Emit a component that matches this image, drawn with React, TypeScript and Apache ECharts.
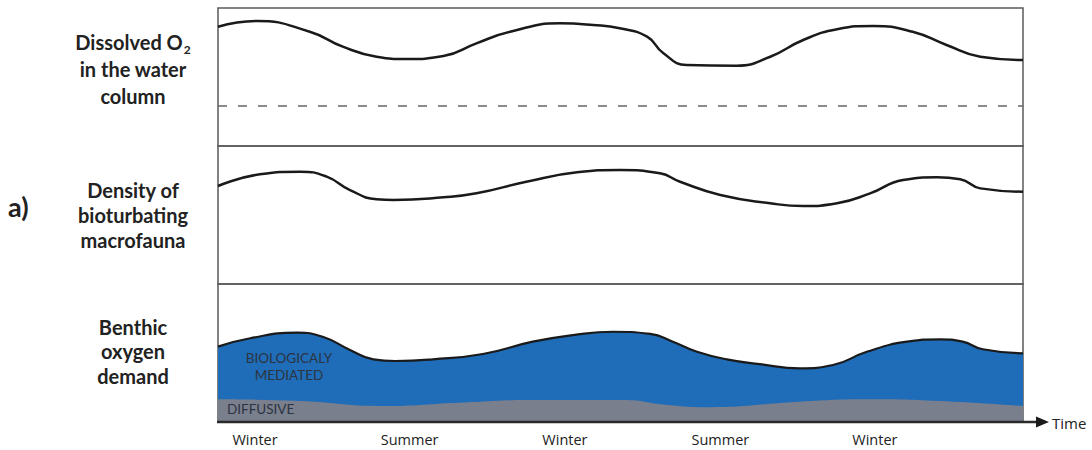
import React, { useEffect, useRef } from "react";
import * as echarts from "echarts";

// time axis: 0..100 (share of the plotted span); values: 0..100 within each panel
const o2Time = [0, 4.8, 11.4, 15.5, 19.7, 23.4, 28.0, 32.1, 36.3, 42.5, 46.6, 49.9, 53.3, 55.3, 58.2, 64.4, 68.6, 72.7, 76.9, 81.4, 86.3, 90.5, 94.7, 100];
const o2Values = [86.4, 90.6, 82.8, 72.0, 64.7, 63.0, 65.2, 74.4, 82.8, 88.9, 87.7, 85.3, 79.2, 67.4, 58.7, 58.2, 64.7, 76.8, 84.6, 87.0, 82.8, 73.2, 64.7, 62.3];
const hypoxiaThreshold = 29;

const faunaTime = [0, 5.2, 10.2, 13.5, 16.4, 19.7, 21.8, 28.0, 32.1, 38.3, 44.6, 49.9, 54.9, 57.4, 62.4, 68.6, 72.7, 76.9, 81.0, 85.1, 89.3, 92.2, 94.7, 100];
const faunaValues = [71.0, 79.5, 81.4, 77.8, 68.1, 61.4, 60.9, 62.8, 65.7, 74.1, 80.9, 82.6, 80.2, 74.1, 64.5, 58.5, 56.5, 58.5, 65.7, 75.4, 77.3, 75.9, 69.3, 66.9];

const demandTime = [0, 4.0, 9.8, 13.0, 16.4, 19.3, 22.0, 26.7, 32.9, 39.1, 44.1, 49.1, 53.7, 56.5, 59.5, 63.2, 67.3, 72.3, 76.4, 80.6, 85.6, 89.7, 92.5, 95.0, 100];
const demandValues = [54.6, 60.7, 64.7, 61.8, 52.2, 45.4, 44.2, 45.4, 49.3, 58.2, 63.0, 65.4, 63.8, 58.2, 50.9, 45.4, 42.0, 38.9, 41.3, 50.9, 58.2, 59.9, 58.2, 52.7, 49.8];

const diffusiveTime = [0, 10.2, 20.5, 30.0, 39.1, 50.3, 55.8, 60.7, 72.3, 80.5, 88.8, 100];
const diffusiveValues = [16.4, 15.2, 11.6, 14.0, 15.9, 15.9, 12.3, 10.7, 14.7, 16.4, 15.4, 11.6];

const seasonTime = [4.6, 23.8, 43.1, 62.4, 81.6];
const seasonLabels = ["Winter", "Summer", "Winter", "Summer", "Winter"];

const pair = (t: number[], v: number[]) => t.map((x, i) => [x, v[i]]);

export default function App() {
  const ref = useRef<HTMLDivElement>(null);
  useEffect(() => {
    document.body.style.margin = "0";
    const chart = echarts.init(ref.current!, null, { renderer: "svg" });
    const gridBase = {
      left: 218,
      width: 805,
      height: 138,
      show: true,
      borderColor: "#5a5a5a",
      borderWidth: 1.5,
      backgroundColor: "transparent",
    };
    const hiddenX = (gridIndex: number) => ({
      type: "value",
      gridIndex,
      min: 0,
      max: 100,
      show: false,
    });
    const hiddenY = (gridIndex: number) => ({
      type: "value",
      gridIndex,
      min: 0,
      max: 100,
      show: false,
    });
    const labelFont = "Lato";
    const panelText = (text: string, y: number) => ({
      type: "text",
      x: 133,
      y,
      style: {
        text,
        fill: "#222",
        font: `bold 20px ${labelFont}`,
        textAlign: "center",
        textVerticalAlign: "middle",
      },
    });
    const option: any = {
      animation: false,
      backgroundColor: "#fff",
      grid: [
        { ...gridBase, top: 8 },
        { ...gridBase, top: 146 },
        { ...gridBase, top: 284 },
      ],
      xAxis: [
        hiddenX(0),
        hiddenX(1),
        {
          type: "value",
          gridIndex: 2,
          min: 0,
          max: 100,
          axisLine: { show: false },
          axisTick: { show: false },
          splitLine: { show: false },
          axisLabel: {
            show: true,
            customValues: seasonTime,
            margin: 10,
            color: "#222",
            fontFamily: "Open Sans",
            fontSize: 14.5,
            formatter: (val: number) => {
              const i = seasonTime.findIndex((s) => Math.abs(s - val) < 0.5);
              return i >= 0 ? seasonLabels[i] : "";
            },
          },
        },
      ],
      yAxis: [hiddenY(0), hiddenY(1), hiddenY(2)],
      series: [
        {
          type: "line",
          xAxisIndex: 0,
          yAxisIndex: 0,
          data: pair(o2Time, o2Values),
          smooth: 0.5,
          symbol: "none",
          lineStyle: { color: "#1a1a1a", width: 2.5 },
          markLine: {
            silent: true,
            symbol: "none",
            label: { show: false },
            lineStyle: { color: "#666", width: 1.5, type: [9, 11] },
            data: [{ yAxis: hypoxiaThreshold }],
          },
        },
        {
          type: "line",
          xAxisIndex: 1,
          yAxisIndex: 1,
          data: pair(faunaTime, faunaValues),
          smooth: 0.5,
          symbol: "none",
          lineStyle: { color: "#1a1a1a", width: 2.5 },
        },
        {
          type: "line",
          xAxisIndex: 2,
          yAxisIndex: 2,
          data: pair(demandTime, demandValues),
          smooth: 0.5,
          symbol: "none",
          lineStyle: { color: "#1a1a1a", width: 2.2 },
          areaStyle: { color: "#1f6db8", opacity: 1 },
          z: 2,
        },
        {
          type: "line",
          xAxisIndex: 2,
          yAxisIndex: 2,
          data: pair(diffusiveTime, diffusiveValues),
          smooth: 0.5,
          symbol: "none",
          lineStyle: { width: 0, color: "#7a7f8e" },
          areaStyle: { color: "#7a7f8e", opacity: 1 },
          z: 3,
        },
      ],
      graphic: [
        {
          type: "text",
          x: 133,
          y: 42,
          style: {
            text: "{a|Dissolved O}{b|2}",
            textAlign: "center",
            textVerticalAlign: "middle",
            rich: {
              a: { font: `bold 20px ${labelFont}`, fill: "#222", lineHeight: 26 },
              b: {
                font: `bold 12px ${labelFont}`,
                fill: "#222",
                lineHeight: 12,
                verticalAlign: "bottom",
                padding: [0, 0, 0, 1],
              },
            },
          },
        },
        panelText("in the water", 69),
        panelText("column", 96),
        panelText("Density of", 190),
        panelText("bioturbating", 215),
        panelText("macrofauna", 240),
        panelText("Benthic", 327),
        panelText("oxygen", 351),
        panelText("demand", 376),
        {
          type: "text",
          x: 8,
          y: 206,
          style: {
            text: "a)",
            fill: "#222",
            font: `bold 27px ${labelFont}`,
            textAlign: "left",
            textVerticalAlign: "middle",
          },
        },
        {
          type: "text",
          x: 289,
          y: 358,
          z: 10,
          style: {
            text: "BIOLOGICALY",
            fill: "#2b3440",
            font: `13.5px ${labelFont}`,
            textAlign: "center",
            textVerticalAlign: "middle",
          },
        },
        {
          type: "text",
          x: 289,
          y: 375,
          z: 10,
          style: {
            text: "MEDIATED",
            fill: "#2b3440",
            font: `13.5px ${labelFont}`,
            textAlign: "center",
            textVerticalAlign: "middle",
          },
        },
        {
          type: "text",
          x: 227,
          y: 409,
          z: 10,
          style: {
            text: "DIFFUSIVE",
            fill: "#2b3440",
            font: `13.5px ${labelFont}`,
            textAlign: "left",
            textVerticalAlign: "middle",
          },
        },
        {
          type: "line",
          z: 10,
          shape: { x1: 217, y1: 422, x2: 1040, y2: 422 },
          style: { stroke: "#2a2a2a", lineWidth: 2.5 },
        },
        {
          type: "polygon",
          z: 10,
          shape: { points: [[1036, 416.5], [1049, 422], [1036, 427.5]] },
          style: { fill: "#1a1a1a" },
        },
        {
          type: "text",
          x: 1052,
          y: 423,
          style: {
            text: "Time",
            fill: "#222",
            font: `15px Open Sans`,
            textAlign: "left",
            textVerticalAlign: "middle",
          },
        },
      ],
    };
    chart.setOption(option);
    return () => chart.dispose();
  }, []);
  return <div ref={ref} style={{ width: 1092, height: 450 }} />;
}
